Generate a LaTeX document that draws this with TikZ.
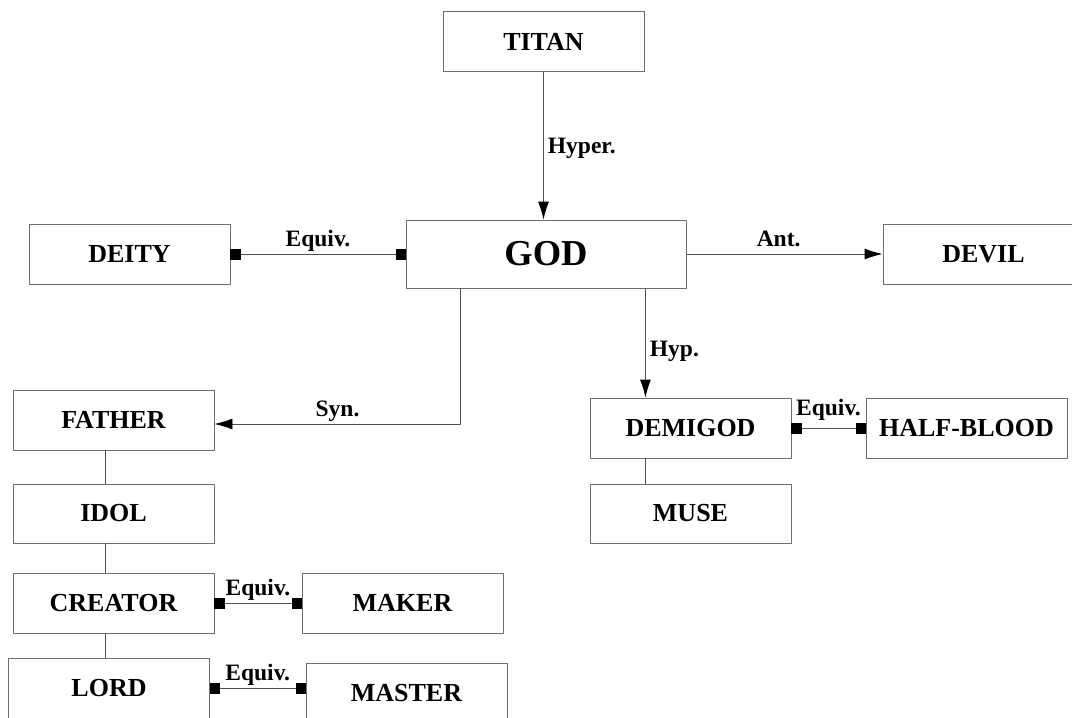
\documentclass[tikz,border=0pt]{standalone}
\usepackage{fontspec}
\setmainfont{Liberation Serif}
\usetikzlibrary{arrows.meta}

\definecolor{boxgray}{RGB}{110,110,110}
\definecolor{linegray}{RGB}{80,80,80}

\begin{document}
\begin{tikzpicture}[x=1pt,y=-1pt,line join=round,
  wordbox/.style={draw=boxgray,line width=0.9pt,minimum width=201pt,minimum height=60pt,
    inner sep=0pt,font=\bfseries\fontsize{26}{28}\selectfont},
  rellabel/.style={font=\bfseries\fontsize{23.5}{26}\selectfont,inner sep=1pt,text depth=6pt},
  link/.style={draw=linegray,line width=0.9pt},
  arr/.style={link,-{Latex[length=18pt,width=11pt,color=black]}},
  equiv/.style={link,{Square[length=10pt,width=11pt,color=black]}-{Square[length=10pt,width=11pt,color=black]}}]

  \useasboundingbox (0,0) rectangle (1072,718);
  \clip (0,0) rectangle (1072,718);

  % ---- top row ----
  \node[wordbox] (titan) at (543.5,41.5) {TITAN};
  \node[wordbox,minimum width=280pt,minimum height=68pt,
    font=\bfseries\fontsize{36.5}{40}\selectfont] (god) at (546,254) {GOD};
  \node[wordbox] (deity) at (129.5,254) {DEITY};
  \node[wordbox] (devil) at (983.5,254) {DEVIL};

  % ---- left column ----
  \node[wordbox] (father) at (113.5,420) {FATHER};
  \node[wordbox,minimum height=59pt] (idol) at (113.5,513.5) {IDOL};
  \node[wordbox] (creator) at (113.5,603) {CREATOR};
  \node[wordbox] (maker) at (402.5,603) {MAKER};
  \node[wordbox] (lord) at (109,688) {LORD};
  \node[wordbox] (master) at (406.5,693) {MASTER};

  % ---- right group ----
  \node[wordbox] (demigod) at (690.5,428) {DEMIGOD};
  \node[wordbox] (halfblood) at (966.5,428) {HALF-BLOOD};
  \node[wordbox,minimum height=59pt] (muse) at (690.5,513.5) {MUSE};

  % ---- relations of god ----
  \draw[arr] (titan.south) -- (titan.south |- god.north)
    node[rellabel,pos=0.52,right,inner sep=4pt] {Hyper.};
  \draw[equiv] (deity.east) -- (god.west)
    node[rellabel,midway,above] {Equiv.};
  \draw[arr] (god.east) -- (devil.west)
    node[rellabel,pos=0.47,above] {Ant.};

  \coordinate (synstart) at ([xshift=55pt]god.south west);
  \draw[arr] (synstart) |- ([yshift=-4pt]father.east)
    node[rellabel,pos=0.75,above] {Syn.};

  \coordinate (hyptop) at ([xshift=-41pt]god.south east);
  \draw[arr] (hyptop) -- (hyptop |- demigod.north)
    node[rellabel,pos=0.58,right,inner sep=4pt] {Hyp.};

  % ---- left chain ----
  \coordinate (chainx) at ([xshift=-8.5pt]father.south);
  \draw[link] (chainx) -- (chainx |- idol.north);
  \draw[link] (chainx |- idol.south) -- (chainx |- creator.north);
  \draw[link] (chainx |- creator.south) -- (chainx |- lord.north);
  \draw[equiv] (creator.east) -- (maker.west)
    node[rellabel,midway,above] {Equiv.};
  \draw[equiv] (lord.east) -- (lord.east -| master.west)
    node[rellabel,midway,above] {Equiv.};

  % ---- demigod group ----
  \draw[link] (hyptop |- demigod.south) -- (hyptop |- muse.north);
  \draw[equiv] (demigod.east) -- (halfblood.west)
    node[rellabel,midway,above=5pt] {Equiv.};

\end{tikzpicture}
\end{document}
